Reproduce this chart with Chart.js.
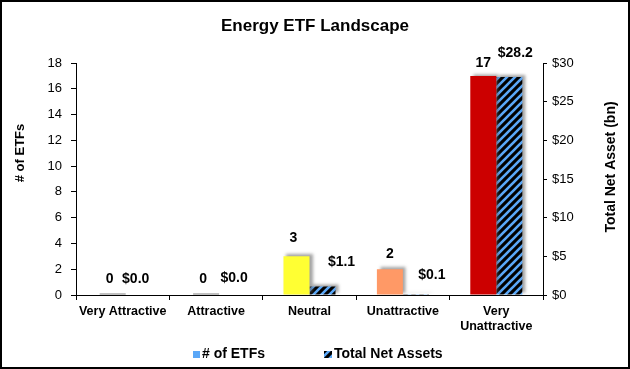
<!DOCTYPE html>
<html><head><meta charset="utf-8">
<script src="https://cdn.jsdelivr.net/npm/chart.js@4.4.0/dist/chart.umd.min.js"></script>
<style>html,body{margin:0;padding:0;background:#fff}#wrap{width:630px;height:369px;position:relative}</style>
</head><body><div id="wrap"><canvas id="c"></canvas></div>
<script>
const categories = ['Very Attractive', 'Attractive', 'Neutral', 'Unattractive', ['Very', 'Unattractive']];
const etfCounts = [0, 0, 3, 2, 17];
const netAssets = [0.0, 0.0, 1.1, 0.1, 28.2];
const countLabels = ['0', '0', '3', '2', '17'];
const assetLabels = ['$0.0', '$0.0', '$1.1', '$0.1', '$28.2'];
const leftTicks = [0, 2, 4, 6, 8, 10, 12, 14, 16, 18];
const rightTicks = [0, 5, 10, 15, 20, 25, 30];
const seriesNames = ['# of ETFs', 'Total Net Assets'];
const axisTitles = ['# of ETFs', 'Total Net Asset (bn)'];

const FONT = '"Liberation Sans", Arial, sans-serif';
const countColors = ['#00b050', '#92d050', '#ffff33', '#ff9966', '#cc0000'];
const legendBlue = '#5aa7f7';

function hatchPattern() {
  const s = 8;
  const c = document.createElement('canvas');
  c.width = s; c.height = s;
  const x = c.getContext('2d');
  x.fillStyle = '#000'; x.fillRect(0, 0, s, s);
  x.strokeStyle = '#5aa7f7'; x.lineWidth = 2.6;
  x.beginPath();
  x.moveTo(-1, s + 1); x.lineTo(s + 1, -1);
  x.moveTo(-1 - s / 2, s / 2 + 1); x.lineTo(s / 2 + 1, -1 - s / 2);
  x.moveTo(s / 2 - 1, s + s / 2 + 1); x.lineTo(s + s / 2 + 1, s / 2 - 1);
  x.stroke();
  return x.createPattern(c, 'repeat');
}
const hatch = hatchPattern();

const countNudge = [{dx:0,dy:16},{dx:0,dy:16},{dx:-3,dy:18},{dx:0,dy:15},{dx:0,dy:13}];
const assetNudge = [{dx:0,dy:16},{dx:5,dy:17},{dx:19,dy:24},{dx:16,dy:19},{dx:6,dy:24}];

const shadowPlugin = {
  id: 'barShadow',
  beforeDatasetsDraw(chart) {
    const ctx = chart.ctx; ctx.save();
    ctx.shadowColor = 'rgba(90,90,90,0.55)';
    ctx.shadowOffsetX = 3; ctx.shadowOffsetY = -2; ctx.shadowBlur = 3;
  },
  afterDatasetsDraw(chart) {
    const ctx = chart.ctx;
    ctx.restore();
    // faint shadow marks of zero-height bars
    ctx.save();
    chart.data.datasets.forEach((ds, i) => {
      const meta = chart.getDatasetMeta(i);
      meta.data.forEach((bar, j) => {
        if (ds.data[j] === 0 && i === 0) {
          ctx.fillStyle = 'rgba(150,150,150,0.6)';
          ctx.fillRect(bar.x - bar.width / 2 + 3, bar.y - 2, bar.width, 2);
        }
      });
    });
    ctx.restore();
  }
};

const labelPlugin = {
  id: 'valueLabels',
  afterDatasetsDraw(chart) {
    const ctx = chart.ctx; ctx.save();
    ctx.font = 'bold 14px ' + FONT; ctx.fillStyle = '#000';
    ctx.textAlign = 'center'; ctx.textBaseline = 'middle';
    chart.data.datasets.forEach((ds, i) => {
      const meta = chart.getDatasetMeta(i);
      meta.data.forEach((bar, j) => {
        const txt = i === 0 ? countLabels[j] : assetLabels[j];
        const n = i === 0 ? countNudge[j] : assetNudge[j];
        ctx.fillText(txt, bar.x + n.dx, bar.y - n.dy);
      });
    });
    ctx.restore();
  }
};

const framePlugin = {
  id: 'frameLegend',
  afterDraw(chart) {
    const ctx = chart.ctx; ctx.save();
    ctx.strokeStyle = '#000'; ctx.lineWidth = 2;
    ctx.strokeRect(1, 1, chart.width - 2, chart.height - 2);
    // axis titles (both read bottom-to-top)
    ctx.fillStyle = '#000'; ctx.textAlign = 'center'; ctx.textBaseline = 'middle';
    ctx.font = 'bold 13px ' + FONT;
    ctx.save(); ctx.translate(20, 153); ctx.rotate(-Math.PI / 2); ctx.fillText(axisTitles[0], 0, 0); ctx.restore();
    ctx.font = 'bold 14px ' + FONT;
    ctx.save(); ctx.translate(611, 167); ctx.rotate(-Math.PI / 2); ctx.fillText(axisTitles[1], 0, 0); ctx.restore();
    // legend
    const y = 354;
    ctx.font = 'bold 14px ' + FONT; ctx.textBaseline = 'middle'; ctx.textAlign = 'left';
    ctx.fillStyle = legendBlue; ctx.fillRect(193, y - 3, 7, 7);
    ctx.fillStyle = '#000'; ctx.fillText(seriesNames[0], 202, y);
    ctx.fillStyle = hatch; ctx.fillRect(324, y - 3, 8, 7);
    ctx.fillStyle = '#000'; ctx.fillText(seriesNames[1], 334, y);
    ctx.restore();
  }
};

new Chart(document.getElementById('c'), {
  type: 'bar',
  data: {
    labels: categories,
    datasets: [
      { label: seriesNames[0], data: etfCounts, backgroundColor: countColors, yAxisID: 'y', borderWidth: 0 },
      { label: seriesNames[1], data: netAssets, backgroundColor: hatch, yAxisID: 'y1', borderWidth: 0 }
    ]
  },
  options: {
    responsive: true, maintainAspectRatio: false, animation: false,
    datasets: { bar: { barPercentage: 1, categoryPercentage: 0.557 } },
    layout: { padding: { left: 4, right: 4, top: 0, bottom: 30 } },
    plugins: {
      legend: { display: false },
      tooltip: { enabled: false },
      title: { display: true, text: 'Energy ETF Landscape', color: '#000',
        font: { family: FONT, size: 17, weight: 'bold' }, padding: { top: 16, bottom: 26.6 } }
    },
    scales: {
      x: {
        grid: { display: true, offset: true, drawOnChartArea: false, tickLength: 5, color: '#000' },
        border: { color: '#000', width: 1 },
        ticks: { color: '#000', font: { family: FONT, size: 12.5, weight: 'bold' }, padding: 4, maxRotation: 0, autoSkip: false },
        afterFit(s) { s.height = 44; }
      },
      y: {
        position: 'left', min: 0, max: 18,
        afterBuildTicks(s) { s.ticks = leftTicks.map(v => ({ value: v })); },
        grid: { drawOnChartArea: false, tickLength: 5, color: '#000' },
        border: { color: '#000', width: 1 },
        ticks: { color: '#000', font: { family: FONT, size: 13 }, padding: 9 },
        afterFit(s) { s.width = 72; }
      },
      y1: {
        position: 'right', min: 0, max: 30,
        afterBuildTicks(s) { s.ticks = rightTicks.map(v => ({ value: v })); },
        grid: { drawOnChartArea: false, tickLength: 4, color: '#000' },
        border: { color: '#000', width: 1 },
        ticks: { color: '#000', font: { family: FONT, size: 13 }, padding: 5, callback: v => '$' + v },
        afterFit(s) { s.width = 83; }
      }
    }
  },
  plugins: [shadowPlugin, labelPlugin, framePlugin]
});
</script></body></html>
